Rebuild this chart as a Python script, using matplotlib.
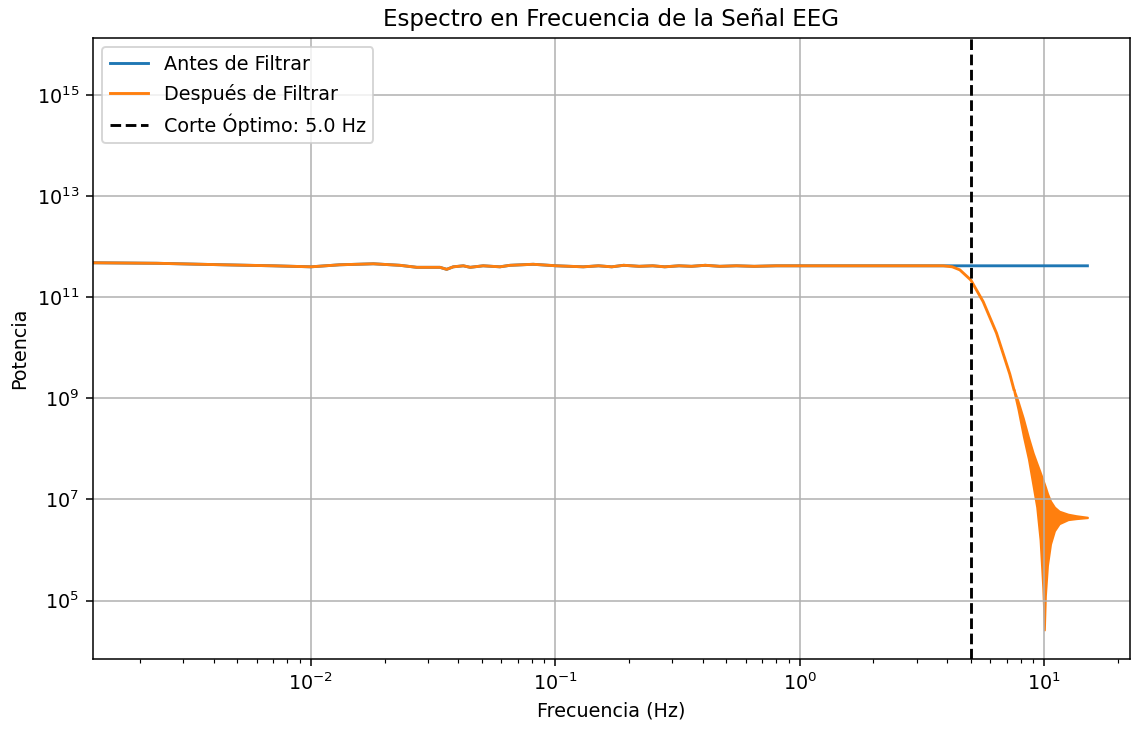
import numpy as np
import matplotlib
matplotlib.use("Agg")
import matplotlib.pyplot as plt

# ---------------- data ----------------
# flat part of the spectrum (shared by both series), log10(power)
freq_flat = [0.00128, 0.00234, 0.00438, 0.0070, 0.010, 0.0131, 0.018, 0.0231,
             0.0271, 0.0337, 0.0359, 0.0382, 0.0420, 0.0448, 0.0506, 0.0593,
             0.0652, 0.0811, 0.101, 0.130, 0.15, 0.17, 0.19, 0.22, 0.25, 0.28,
             0.32, 0.36, 0.41, 0.47, 0.55, 0.65, 0.8, 1.0, 1.5, 2.0, 3.0]
logp_flat = [11.68, 11.67, 11.64, 11.62, 11.60, 11.64, 11.66, 11.63,
             11.59, 11.59, 11.55, 11.60, 11.62, 11.59, 11.62, 11.60,
             11.63, 11.65, 11.62, 11.60, 11.62, 11.60, 11.63, 11.61, 11.62, 11.60,
             11.62, 11.61, 11.63, 11.61, 11.62, 11.61, 11.62, 11.62, 11.62, 11.62, 11.62]

# "before" series continues flat up to 15 Hz
freq_before_tail = [3.86, 5.0, 7.0, 10.0, 15.0]
logp_before_tail = [11.62, 11.62, 11.62, 11.62, 11.62]

# "after" series: roll-off of the low-pass filter
freq_after_tail = [3.86, 4.2, 4.51, 5.0, 5.62, 6.37, 7.22, 7.5]
logp_after_tail = [11.62, 11.60, 11.54, 11.34, 10.91, 10.29, 9.48, 9.18]

# oscillating stop-band region of the filtered spectrum (envelopes)
band_freq = [7.5, 7.8, 8.2, 8.6, 9.0, 9.3, 9.6, 9.85, 10.0, 10.1, 10.3,
             10.6, 11.0, 11.5, 12.5, 13.5, 15.0]
band_upper = [9.18, 8.95, 8.61, 8.24, 7.92, 7.73, 7.55, 7.40, 7.31, 7.25, 7.12,
              6.97, 6.85, 6.77, 6.71, 6.68, 6.65]
band_lower = [9.14, 8.78, 8.25, 7.80, 7.25, 6.85, 6.20, 5.25, 4.42, 5.10, 5.70,
              6.12, 6.38, 6.52, 6.60, 6.62, 6.64]

cutoff = 5.0

# ---------------- figure ----------------
W, H, DPI = 1132, 730, 138
fig = plt.figure(figsize=(W / DPI, H / DPI), dpi=DPI)
ax = fig.add_axes([92.7 / W, 1 - 659.3 / H, (1130 - 92.7) / W, (659.3 - 37.7) / H])

f_before = np.array(freq_flat + freq_before_tail)
p_before = 10 ** np.array(logp_flat + logp_before_tail)
f_after = np.array(freq_flat + freq_after_tail)
p_after = 10 ** np.array(logp_flat + logp_after_tail)

ax.plot(f_before, p_before, color="C0", lw=1.5, label="Antes de Filtrar")
ax.plot(f_after, p_after, color="C1", lw=1.5, label="Después de Filtrar")
ax.fill_between(band_freq, 10 ** np.array(band_lower), 10 ** np.array(band_upper),
                color="C1", lw=1.0)
ax.axvline(cutoff, color="black", linestyle="--", lw=1.5,
           label=f"Corte Óptimo: {cutoff:.1f} Hz")

ax.set_xscale("log")
ax.set_yscale("log")
ax.set_xlim(0.00128, 22.4)
ax.set_ylim(10 ** 3.84, 10 ** 16.13)
ax.grid(True)

ax.set_title("Espectro en Frecuencia de la Señal EEG")
ax.set_xlabel("Frecuencia (Hz)")
ax.set_ylabel("Potencia")
ax.legend(loc="upper left")

fig.savefig("out.png", dpi=DPI)
